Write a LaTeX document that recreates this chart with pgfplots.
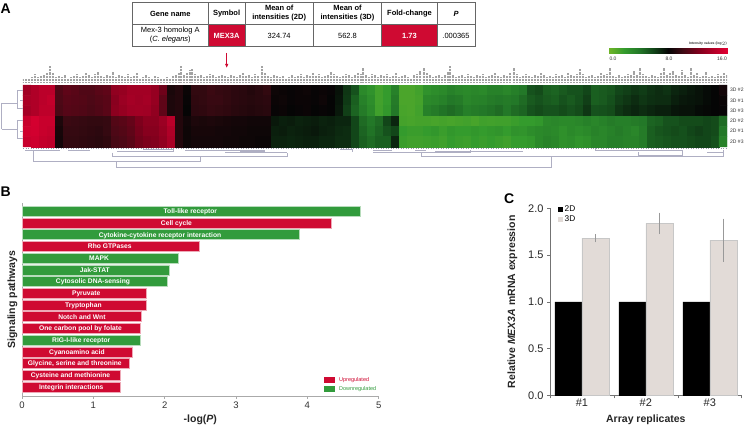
\documentclass[border=0pt]{standalone}
\usepackage{pgfplots}
\pgfplotsset{compat=1.18}
\usetikzlibrary{arrows.meta}
\usepackage{fontspec}
\setmainfont{Liberation Sans}
\newcommand{\fs}[1]{\fontsize{#1}{#1}\selectfont}
\definecolor{bred}{RGB}{207,10,50}
\definecolor{bgreen}{RGB}{50,155,60}
\definecolor{den}{RGB}{175,175,195}
\definecolor{axg}{RGB}{170,170,170}
\definecolor{cthree}{RGB}{226,219,215}
\pgfplotsset{
 hm/.style={colormap={gr}{rgb255(0)=(110,180,40); rgb255(2)=(52,155,45); rgb255(4)=(35,120,40); rgb255(6)=(18,70,25); rgb255(8)=(5,5,5); rgb255(10)=(65,10,20); rgb255(12)=(125,0,28); rgb255(16)=(225,0,50)},point meta min=0,point meta max=16},
 /pgf/number format/assume math mode=true}
\newcommand{\hd}[2]{\node[align=center,font=\fs{7.5}\bfseries] at (axis cs:#1,13.5) {#2};}
\newcommand{\rl}[2]{\node[font=\fs{5},anchor=west,inner sep=0,black!80] at (axis cs:730,#1) {#2};}
\newcommand{\bl}[3]{\node[font=\fs{6.7}\bfseries,white,inner sep=0,text height=4.9pt,text depth=0pt] at (axis cs:#1,#2) {#3};}
\begin{document}
\begin{tikzpicture}
\useasboundingbox (0pt,0pt) rectangle (745pt,426pt);
\fill[white] (0pt,0pt) rectangle (745pt,426pt);
%% overlay in pixel coordinates
\begin{axis}[at={(0pt,0pt)},anchor=south west,scale only axis,width=745pt,height=426pt,xmin=0,xmax=745,ymin=0,ymax=426,y dir=reverse,hide axis,hm,clip=false,unbounded coords=jump]
% heatmap
\addplot[matrix plot*,mesh/cols=88,point meta=explicit] table[row sep=\\,meta index=2] {
27 90.2 13.5\\35 90.2 14\\43 90.2 14.5\\51 90.2 14.5\\59 90.2 10.5\\67 90.2 11\\75 90.2 10.8\\83 90.2 10.5\\91 90.2 10.5\\99 90.2 10.8\\107 90.2 11\\115 90.2 12.8\\123 90.2 13\\131 90.2 13.5\\139 90.2 13.5\\147 90.2 13.5\\155 90.2 13\\163 90.2 11.5\\171 90.2 8.7\\179 90.2 9\\187 90.2 8.2\\195 90.2 9.5\\203 90.2 9.5\\211 90.2 9.8\\219 90.2 9.6\\227 90.2 9.5\\235 90.2 9.3\\243 90.2 9.2\\251 90.2 9\\259 90.2 9.2\\267 90.2 9.5\\275 90.2 8.3\\283 90.2 8.2\\291 90.2 8.1\\299 90.2 8.2\\307 90.2 8.3\\315 90.2 8.1\\323 90.2 8.2\\331 90.2 8.1\\339 90.2 7.6\\347 90.2 6.5\\355 90.2 5.5\\363 90.2 3\\371 90.2 2.5\\379 90.2 1.5\\387 90.2 2\\395 90.2 3.5\\403 90.2 1.2\\411 90.2 1.2\\419 90.2 1.5\\427 90.2 2.5\\435 90.2 2.8\\443 90.2 3\\451 90.2 3.5\\459 90.2 3.2\\467 90.2 3\\475 90.2 3.2\\483 90.2 3\\491 90.2 3.5\\499 90.2 3.5\\507 90.2 3.2\\515 90.2 3.6\\523 90.2 4\\531 90.2 5.5\\539 90.2 5.8\\547 90.2 5\\555 90.2 4.8\\563 90.2 5.2\\571 90.2 5.5\\579 90.2 5.5\\587 90.2 6\\595 90.2 5\\603 90.2 5.2\\611 90.2 5.4\\619 90.2 6\\627 90.2 6.2\\635 90.2 6.5\\643 90.2 6.3\\651 90.2 6.6\\659 90.2 6.8\\667 90.2 6.6\\675 90.2 7\\683 90.2 7.2\\691 90.2 7.4\\699 90.2 7.6\\707 90.2 7.8\\715 90.2 8\\723 90.2 8.5\\
27 100.5 13.8\\35 100.5 14\\43 100.5 14.5\\51 100.5 14.8\\59 100.5 10.4\\67 100.5 10.8\\75 100.5 10.7\\83 100.5 10.6\\91 100.5 10.4\\99 100.5 10.6\\107 100.5 10.8\\115 100.5 12.5\\123 100.5 13.2\\131 100.5 13.6\\139 100.5 13.4\\147 100.5 13.6\\155 100.5 13\\163 100.5 11\\171 100.5 8.8\\179 100.5 9\\187 100.5 8.1\\195 100.5 9.4\\203 100.5 9.5\\211 100.5 9.7\\219 100.5 9.7\\227 100.5 9.5\\235 100.5 9.3\\243 100.5 9.2\\251 100.5 9.1\\259 100.5 9.2\\267 100.5 9.3\\275 100.5 8.2\\283 100.5 8.3\\291 100.5 8.1\\299 100.5 8.2\\307 100.5 8.2\\315 100.5 8.1\\323 100.5 8.3\\331 100.5 8\\339 100.5 7.5\\347 100.5 6.4\\355 100.5 5\\363 100.5 3.5\\371 100.5 2.8\\379 100.5 1.5\\387 100.5 2\\395 100.5 3.8\\403 100.5 1.2\\411 100.5 1.2\\419 100.5 1.4\\427 100.5 3\\435 100.5 3.2\\443 100.5 3.5\\451 100.5 4\\459 100.5 3.8\\467 100.5 3.2\\475 100.5 3.4\\483 100.5 3.5\\491 100.5 3.8\\499 100.5 4\\507 100.5 3.8\\515 100.5 4\\523 100.5 4.5\\531 100.5 5.2\\539 100.5 5.5\\547 100.5 5.2\\555 100.5 5\\563 100.5 5.5\\571 100.5 5.2\\579 100.5 5.6\\587 100.5 6.2\\595 100.5 5\\603 100.5 5.2\\611 100.5 5.6\\619 100.5 6.2\\627 100.5 6.5\\635 100.5 6.8\\643 100.5 6.5\\651 100.5 6.7\\659 100.5 6.8\\667 100.5 6.8\\675 100.5 7.2\\683 100.5 7.4\\691 100.5 7.5\\699 100.5 7.6\\707 100.5 7.8\\715 100.5 8\\723 100.5 8.2\\
27 110.8 13.6\\35 110.8 14\\43 110.8 14.6\\51 110.8 14.6\\59 110.8 10.3\\67 110.8 10.7\\75 110.8 10.6\\83 110.8 10.5\\91 110.8 10.3\\99 110.8 10.5\\107 110.8 10.8\\115 110.8 12.6\\123 110.8 13\\131 110.8 13.4\\139 110.8 13.5\\147 110.8 13.4\\155 110.8 12.8\\163 110.8 11\\171 110.8 8.8\\179 110.8 9\\187 110.8 8\\195 110.8 9.3\\203 110.8 9.4\\211 110.8 9.6\\219 110.8 9.5\\227 110.8 9.4\\235 110.8 9.2\\243 110.8 9.1\\251 110.8 9\\259 110.8 9.1\\267 110.8 9.2\\275 110.8 8.1\\283 110.8 8.2\\291 110.8 8\\299 110.8 8.1\\307 110.8 8.2\\315 110.8 8\\323 110.8 8.1\\331 110.8 8\\339 110.8 7.4\\347 110.8 6.2\\355 110.8 4.8\\363 110.8 3.8\\371 110.8 3\\379 110.8 1.6\\387 110.8 2.2\\395 110.8 4\\403 110.8 1.3\\411 110.8 1.2\\419 110.8 1.5\\427 110.8 3.5\\435 110.8 3.8\\443 110.8 4.2\\451 110.8 4.5\\459 110.8 4.2\\467 110.8 3.6\\475 110.8 3.8\\483 110.8 4\\491 110.8 4.2\\499 110.8 4.5\\507 110.8 4\\515 110.8 4.5\\523 110.8 4.8\\531 110.8 5.5\\539 110.8 5.8\\547 110.8 5.5\\555 110.8 5.5\\563 110.8 5.8\\571 110.8 5.5\\579 110.8 5.8\\587 110.8 6.5\\595 110.8 5.5\\603 110.8 5.6\\611 110.8 5.8\\619 110.8 6.5\\627 110.8 6.8\\635 110.8 7\\643 110.8 6.8\\651 110.8 7\\659 110.8 7.2\\667 110.8 7.2\\675 110.8 7.5\\683 110.8 7.6\\691 110.8 7.6\\699 110.8 7.8\\707 110.8 7.9\\715 110.8 8\\723 110.8 8.1\\
27 121.2 15\\35 121.2 15.5\\43 121.2 15\\51 121.2 15\\59 121.2 8.8\\67 121.2 9.8\\75 121.2 9.7\\83 121.2 9.6\\91 121.2 9.5\\99 121.2 9.5\\107 121.2 9.6\\115 121.2 10.6\\123 121.2 10.8\\131 121.2 11.2\\139 121.2 12\\147 121.2 12.6\\155 121.2 12.6\\163 121.2 13.2\\171 121.2 14.4\\179 121.2 9\\187 121.2 8.4\\195 121.2 8.8\\203 121.2 8.7\\211 121.2 8.8\\219 121.2 8.7\\227 121.2 8.6\\235 121.2 8.5\\243 121.2 8.5\\251 121.2 8.4\\259 121.2 8.4\\267 121.2 8.4\\275 121.2 7.4\\283 121.2 7.2\\291 121.2 7.3\\299 121.2 7.1\\307 121.2 7.2\\315 121.2 7.3\\323 121.2 7.1\\331 121.2 7.2\\339 121.2 7\\347 121.2 7\\355 121.2 6\\363 121.2 4.5\\371 121.2 4\\379 121.2 4.5\\387 121.2 6\\395 121.2 7\\403 121.2 1.4\\411 121.2 1.3\\419 121.2 1.4\\427 121.2 1.4\\435 121.2 1.3\\443 121.2 1.4\\451 121.2 1.3\\459 121.2 1.4\\467 121.2 1.5\\475 121.2 1.3\\483 121.2 1.6\\491 121.2 1.5\\499 121.2 1.6\\507 121.2 1.6\\515 121.2 1.8\\523 121.2 2\\531 121.2 2\\539 121.2 2.2\\547 121.2 3\\555 121.2 3.2\\563 121.2 3\\571 121.2 3\\579 121.2 3.2\\587 121.2 3.5\\595 121.2 3.2\\603 121.2 3.5\\611 121.2 3.8\\619 121.2 3.6\\627 121.2 3.6\\635 121.2 3.8\\643 121.2 4\\651 121.2 4.8\\659 121.2 5\\667 121.2 5.5\\675 121.2 5.5\\683 121.2 5.8\\691 121.2 5.8\\699 121.2 5.8\\707 121.2 6\\715 121.2 5.8\\723 121.2 4.5\\
27 131.5 15.3\\35 131.5 15.4\\43 131.5 15\\51 131.5 14.8\\59 131.5 8.6\\67 131.5 9.6\\75 131.5 9.6\\83 131.5 9.5\\91 131.5 9.4\\99 131.5 9.3\\107 131.5 9.6\\115 131.5 10.4\\123 131.5 10.6\\131 131.5 11\\139 131.5 11.8\\147 131.5 12.4\\155 131.5 12.4\\163 131.5 13\\171 131.5 14\\179 131.5 9\\187 131.5 8.3\\195 131.5 8.6\\203 131.5 8.6\\211 131.5 8.6\\219 131.5 8.5\\227 131.5 8.5\\235 131.5 8.4\\243 131.5 8.4\\251 131.5 8.3\\259 131.5 8.3\\267 131.5 8.3\\275 131.5 7.2\\283 131.5 7.3\\291 131.5 7.1\\299 131.5 7.2\\307 131.5 7.3\\315 131.5 7.4\\323 131.5 7.2\\331 131.5 7.1\\339 131.5 6.9\\347 131.5 6.8\\355 131.5 6\\363 131.5 4.8\\371 131.5 4.2\\379 131.5 4.8\\387 131.5 5.5\\395 131.5 6\\403 131.5 2\\411 131.5 1.8\\419 131.5 1.8\\427 131.5 2\\435 131.5 2.2\\443 131.5 1.8\\451 131.5 2.2\\459 131.5 2\\467 131.5 2\\475 131.5 2.2\\483 131.5 2\\491 131.5 2.2\\499 131.5 2.4\\507 131.5 2\\515 131.5 2.5\\523 131.5 2.4\\531 131.5 2.8\\539 131.5 3\\547 131.5 3.2\\555 131.5 3\\563 131.5 2.6\\571 131.5 3\\579 131.5 2.8\\587 131.5 3\\595 131.5 3.4\\603 131.5 3.2\\611 131.5 3.5\\619 131.5 3.8\\627 131.5 3.5\\635 131.5 3.2\\643 131.5 3.8\\651 131.5 5\\659 131.5 5.4\\667 131.5 5.6\\675 131.5 5.8\\683 131.5 5.6\\691 131.5 6\\699 131.5 6.2\\707 131.5 6\\715 131.5 5.8\\723 131.5 4\\
27 141.8 15\\35 141.8 15.2\\43 141.8 14.8\\51 141.8 14.6\\59 141.8 8.5\\67 141.8 9.5\\75 141.8 9.5\\83 141.8 9.4\\91 141.8 9.3\\99 141.8 9.2\\107 141.8 9.4\\115 141.8 10.2\\123 141.8 10.4\\131 141.8 10.8\\139 141.8 11.6\\147 141.8 12\\155 141.8 12.2\\163 141.8 12.8\\171 141.8 13.8\\179 141.8 9\\187 141.8 8.3\\195 141.8 8.5\\203 141.8 8.5\\211 141.8 8.5\\219 141.8 8.5\\227 141.8 8.4\\235 141.8 8.4\\243 141.8 8.3\\251 141.8 8.3\\259 141.8 8.2\\267 141.8 8.2\\275 141.8 7.1\\283 141.8 7.1\\291 141.8 7\\299 141.8 7.1\\307 141.8 7.2\\315 141.8 7.2\\323 141.8 7\\331 141.8 7\\339 141.8 6.8\\347 141.8 6.8\\355 141.8 6\\363 141.8 5\\371 141.8 4.5\\379 141.8 5\\387 141.8 5\\395 141.8 7\\403 141.8 1.8\\411 141.8 1.6\\419 141.8 1.6\\427 141.8 1.7\\435 141.8 1.8\\443 141.8 1.6\\451 141.8 2\\459 141.8 1.8\\467 141.8 1.7\\475 141.8 2\\483 141.8 1.8\\491 141.8 2\\499 141.8 1.8\\507 141.8 1.6\\515 141.8 2\\523 141.8 2\\531 141.8 2.2\\539 141.8 3\\547 141.8 3.4\\555 141.8 3.2\\563 141.8 2.6\\571 141.8 2.8\\579 141.8 2.4\\587 141.8 2.6\\595 141.8 3.2\\603 141.8 3.2\\611 141.8 3.6\\619 141.8 3.6\\627 141.8 3.4\\635 141.8 3.4\\643 141.8 3.8\\651 141.8 5\\659 141.8 5.2\\667 141.8 5.4\\675 141.8 5.6\\683 141.8 5.6\\691 141.8 5.8\\699 141.8 6\\707 141.8 6\\715 141.8 5.6\\723 141.8 3.5\\
};
% colour bar
\addplot[surf,shader=interp,mesh/cols=9,point meta=explicit] table[row sep=\\,meta index=2] {
609 48.3 0\\623.75 48.3 2\\638.5 48.3 4\\653.25 48.3 6\\668 48.3 8\\682.75 48.3 10\\697.5 48.3 12\\712.25 48.3 14\\727 48.3 16\\
609 54 0\\623.75 54 2\\638.5 54 4\\653.25 54 6\\668 54 8\\682.75 54 10\\697.5 54 12\\712.25 54 14\\727 54 16\\
};
% dendrograms
\addplot[den,line width=0.6pt,forget plot] coordinates {
(116.7,161)(116.7,167)(551.7,167)(551.7,157) (0,nan)
(33.7,151)(33.7,161)(200.7,161)(200.7,156) (0,nan)
(112.7,152.7)(112.7,156)(287,156)(287,152.7) (0,nan)
(225,152)(287,152) (0,nan)
(25,150)(60,150) (0,nan) (68,150.5)(90,150.5) (0,nan) (117,151)(173,151) (0,nan) (143,149.5)(173,149.5)(173,152) (0,nan)
(185,150)(265,150) (0,nan) (240,151)(265,151) (0,nan) (340,149.5)(352,149.5)(352,152) (0,nan)
(421.7,153)(421.7,156.7)(723,156.7)(723,150) (0,nan)
(373,152.7)(470,152.7)(470,150) (0,nan) (373,150)(392,150) (0,nan) (415,150)(426,150) (0,nan) (435,151)(523,151) (0,nan)
(595,150)(682,150) (0,nan) (595,150)(595,148) (0,nan)
(638,155)(682,155)(682,150) (0,nan) (638,155)(638,152) (0,nan) (707,152)(723,152) (0,nan)
(1.5,103)(1.5,129) (0,nan)
(1.5,103)(17,103) (0,nan) (1.5,129)(17,129) (0,nan)
(17,90.7)(17,108)(23,108) (0,nan) (17,90.7)(23,90.7) (0,nan) (20,100)(23,100) (0,nan)
(17,120)(17,138)(23,138) (0,nan) (17,120)(23,120) (0,nan) (20,131)(23,131) (0,nan)
};
\addplot[den!85!black,line width=0.6pt,dash pattern=on 1.2pt off 1.3pt,forget plot] coordinates {(23,148.3)(727,148.3)};
% arrow
\addplot[bred,line width=0.8pt,-{Latex[length=4pt,width=3.5pt]},forget plot] coordinates {(226.7,53)(226.7,68)};
% table
\fill[bred] (axis cs:208.3,24.3) rectangle (axis cs:245,46.7);
\fill[bred] (axis cs:381.7,24.3) rectangle (axis cs:437.3,46.7);
\draw[black!60,line width=0.5pt] (axis cs:132.3,2.7) rectangle (axis cs:475,46.7);
\draw[black!60,line width=0.5pt] (axis cs:132.3,24.3)--(axis cs:475,24.3);
\draw[black!60,line width=0.5pt] (axis cs:208.3,2.7)--(axis cs:208.3,46.7);
\draw[black!60,line width=0.5pt] (axis cs:245,2.7)--(axis cs:245,46.7);
\draw[black!60,line width=0.5pt] (axis cs:313.3,2.7)--(axis cs:313.3,46.7);
\draw[black!60,line width=0.5pt] (axis cs:381.7,2.7)--(axis cs:381.7,46.7);
\draw[black!60,line width=0.5pt] (axis cs:437.3,2.7)--(axis cs:437.3,46.7);
\hd{170.3}{Gene name}
\hd{226.6}{Symbol}
\hd{279.2}{Mean of\\[1.5pt]intensities (2D)}
\hd{347.5}{Mean of\\[1.5pt]intensities (3D)}
\hd{409.5}{Fold-change}
\node[font=\fs{7.5}\bfseries\itshape] at (axis cs:456,13.5) {P};
\node[align=center,font=\fs{7.5}] at (axis cs:170.3,35.5) {Mex-3 homolog A\\[1.5pt](\textit{C. elegans})};
\node[font=\fs{7.5}\bfseries,white] at (axis cs:226.6,35.5) {MEX3A};
\node[font=\fs{7.5}] at (axis cs:279.2,35.5) {324.74};
\node[font=\fs{7.5}] at (axis cs:347.5,35.5) {562.8};
\node[font=\fs{7.5}\bfseries,white] at (axis cs:409.5,35.5) {1.73};
\node[font=\fs{7.5}] at (axis cs:456,35.5) {.000365};
% panel letters
\node[font=\fs{14}\bfseries,anchor=west,inner sep=0] at (axis cs:0.5,9) {A};
\node[font=\fs{14}\bfseries,anchor=west,inner sep=0] at (axis cs:0.5,192) {B};
\node[font=\fs{14}\bfseries,anchor=west,inner sep=0] at (axis cs:504,199) {C};
% heatmap labels
\rl{90}{3D \#2}
\rl{100.5}{3D \#1}
\rl{110.5}{3D \#3}
\rl{120.5}{2D \#2}
\rl{131}{2D \#1}
\rl{141.5}{2D \#3}
\node[font=\fs{3.4}\bfseries,anchor=east,inner sep=0,black!80] at (axis cs:727,44) {Intensity values (log$_2$)};
\node[font=\fs{5},inner sep=0,black!80] at (axis cs:613,59) {0.0};
\node[font=\fs{5},inner sep=0,black!80] at (axis cs:669,59) {8.0};
\node[font=\fs{5},anchor=east,inner sep=0,black!80] at (axis cs:727,59) {16.0};
\end{axis}
%% gene-label texture over the heat map
\begin{axis}[at={(23pt,343.3pt)},anchor=south west,scale only axis,width=704pt,height=20pt,xmin=0,xmax=704,ymin=0,ymax=18.5,hide axis]
\addplot[ycomb,black!36,line width=1.4pt,dash pattern=on 1pt off 0.45pt,no marks] table[row sep=\\] {
0 3\\3 4\\6 4\\9 5\\12 8\\15 5\\18 6\\21 7\\24 9\\27 16\\30 9\\33 5\\36 6\\39 5\\42 7\\45 4\\48 5\\51 6\\54 8\\57 5\\60 6\\63 9\\66 7\\69 5\\72 8\\75 10\\78 6\\81 5\\84 7\\87 6\\90 10\\93 5\\96 7\\99 6\\102 5\\105 8\\108 5\\111 6\\114 9\\117 4\\120 5\\123 7\\126 5\\129 4\\132 6\\135 5\\138 4\\141 4\\144 5\\147 4\\150 6\\153 7\\156 9\\158 15\\161 7\\164 9\\167 12\\169 13\\172 8\\175 6\\178 7\\181 5\\184 6\\187 8\\190 7\\193 5\\196 6\\199 7\\202 6\\205 5\\208 7\\211 6\\214 5\\217 7\\220 9\\223 6\\226 7\\229 5\\232 8\\235 6\\239 15\\242 9\\245 6\\248 5\\251 7\\254 6\\257 5\\260 6\\263 4\\266 5\\269 7\\272 5\\275 6\\278 8\\281 5\\284 7\\287 6\\290 9\\293 6\\296 8\\299 5\\302 6\\305 7\\308 10\\311 8\\314 6\\317 5\\320 6\\323 8\\326 7\\329 5\\332 7\\335 9\\338 8\\340 14\\343 7\\346 5\\349 8\\352 7\\355 5\\358 7\\361 6\\364 8\\367 5\\370 6\\373 9\\376 5\\379 6\\382 7\\385 5\\388 4\\391 7\\394 8\\397 11\\401 14\\404 9\\407 7\\410 5\\413 6\\416 7\\419 5\\422 7\\425 10\\427 15\\430 7\\433 5\\436 6\\439 7\\442 5\\445 8\\448 6\\451 5\\454 7\\457 6\\460 8\\463 5\\466 6\\469 7\\472 9\\475 6\\478 5\\481 7\\484 6\\487 9\\491 14\\494 8\\497 5\\500 6\\503 8\\506 6\\509 5\\512 7\\515 6\\518 9\\521 7\\524 5\\527 6\\530 5\\533 8\\536 6\\539 7\\542 5\\545 9\\548 7\\551 6\\554 8\\557 13\\560 8\\563 5\\566 6\\569 7\\572 5\\575 6\\578 9\\581 7\\584 8\\587 14\\590 6\\593 5\\596 7\\599 5\\602 6\\605 8\\608 7\\611 11\\614 7\\617 14\\620 8\\623 6\\626 5\\629 7\\632 6\\635 5\\638 9\\641 14\\644 7\\647 9\\650 11\\653 7\\656 6\\659 12\\662 7\\665 5\\668 14\\671 7\\674 9\\677 5\\680 6\\683 10\\686 5\\689 6\\692 5\\695 8\\698 6\\701 9\\704 7\\
};
\end{axis}
%% panel B
\begin{axis}[at={(22pt,30.3pt)},anchor=south west,scale only axis,width=356.7pt,height=192.4pt,
 xmin=0,xmax=5,ymin=0.317,ymax=16.75,y dir=reverse,xtick={0,1,2,3,4,5},ytick=\empty,
 axis x line=bottom,axis y line=left,axis line style={axg,-},
 xtick style={axg,line width=0.6pt},tick align=outside,major tick length=3pt,
 tick label style={font=\fs{9.5},black!80},
 xlabel={-log(\textit{P})},xlabel style={font=\fs{10.5}\bfseries,black!85,yshift=1pt},
 ylabel={Signaling pathways},ylabel style={font=\fs{10.5}\bfseries,black!85,yshift=-2pt},
 xbar,bar shift=0pt,bar width=10pt,clip=false,
 legend style={at={(axis cs:4.233,15.15)},anchor=north west,draw=none,fill=none,font=\fs{5.5},inner sep=0pt,nodes={inner sep=0pt},row sep=2.5pt},
 legend cell align=left,
 legend image code/.code={\fill[#1,draw=none] (0pt,-3.1pt) rectangle (11pt,3.1pt);\path[draw=none,fill=none] (0pt,0pt)--(15pt,0pt);}]
\addplot[fill=bred,draw=bred!35,line width=0.5pt] coordinates {(4.34,2)(2.48,4)(1.74,8)(1.74,9)(1.67,10)(1.66,11)(1.55,13)(1.505,14)(1.375,15)(1.375,16)};
\addplot[fill=bgreen,draw=bgreen!35,line width=0.5pt] coordinates {(4.74,1)(3.88,3)(2.19,5)(2.07,6)(2.04,7)(1.66,12)};
\legend{\textcolor{bred}{Upregulated},\textcolor{bgreen}{Downregulated}}
\bl{2.36}{1}{Toll-like receptor}
\bl{2.165}{2}{Cell cycle}
\bl{1.935}{3}{Cytokine-cytokine receptor interaction}
\bl{1.23}{4}{Rho GTPases}
\bl{1.08}{5}{MAPK}
\bl{1.02}{6}{Jak-STAT}
\bl{0.995}{7}{Cytosolic DNA-sensing}
\bl{0.9}{8}{Pyruvate}
\bl{0.86}{9}{Tryptophan}
\bl{0.84}{10}{Notch and Wnt}
\bl{0.82}{11}{One carbon pool by folate}
\bl{0.83}{12}{RIG-I-like receptor}
\bl{0.77}{13}{Cyanoamino acid}
\bl{0.74}{14}{Glycine, serine and threonine}
\bl{0.68}{15}{Cysteine and methionine}
\bl{0.69}{16}{Integrin interactions}
\end{axis}
%% panel C
\begin{axis}[at={(550pt,30.7pt)},anchor=south west,scale only axis,width=191.7pt,height=187pt,
 xmin=0.5,xmax=3.5,ymin=0,ymax=2,ybar,bar width=27pt,
 xtick={0.5,1.5,2.5,3.5},xticklabels={},extra x ticks={1,2,3},extra x tick labels={\#1,\#2,\#3},extra x tick style={major tick length=0pt},
 ytick={0,0.5,1,1.5,2},yticklabel style={/pgf/number format/fixed,/pgf/number format/fixed zerofill,/pgf/number format/precision=1},
 axis x line=bottom,axis y line=left,axis line style={-,black!55},
 tick style={black!55,line width=0.5pt},tick align=outside,major tick length=3pt,
 tick label style={font=\fs{11},black!85},
 xlabel={Array replicates},xlabel style={font=\fs{10.5}\bfseries,black!85,yshift=2pt},
 ylabel={Relative \textit{MEX3A} mRNA expression},ylabel style={font=\fs{10.5}\bfseries,black!85,yshift=4pt},
 legend style={at={(axis cs:0.625,2.03)},anchor=north west,draw=none,fill=none,font=\fs{8.3},inner sep=0pt,nodes={inner sep=0pt},row sep=3pt},
 legend cell align=left,
 legend image code/.code={\fill[#1,draw=none] (0pt,-2.4pt) rectangle (4.7pt,2.4pt);\path[draw=none,fill=none] (0pt,0pt)--(6.5pt,0pt);}]
\addplot[fill=black,draw=black,bar shift=-13.5pt] coordinates {(1,1)(2,1)(3,1)};
\addplot[fill=cthree,draw=black!22,line width=0.5pt,bar shift=13.5pt,
 error bars/.cd,y dir=both,y explicit,error bar style={black!40,line width=0.5pt},error mark options={mark size=0pt}]
 coordinates {(1,1.68) +- (0,0.045) (2,1.84) +- (0,0.115) (3,1.66) +- (0,0.23)};
\legend{2D,3D}
\end{axis}
\end{tikzpicture}
\end{document}
